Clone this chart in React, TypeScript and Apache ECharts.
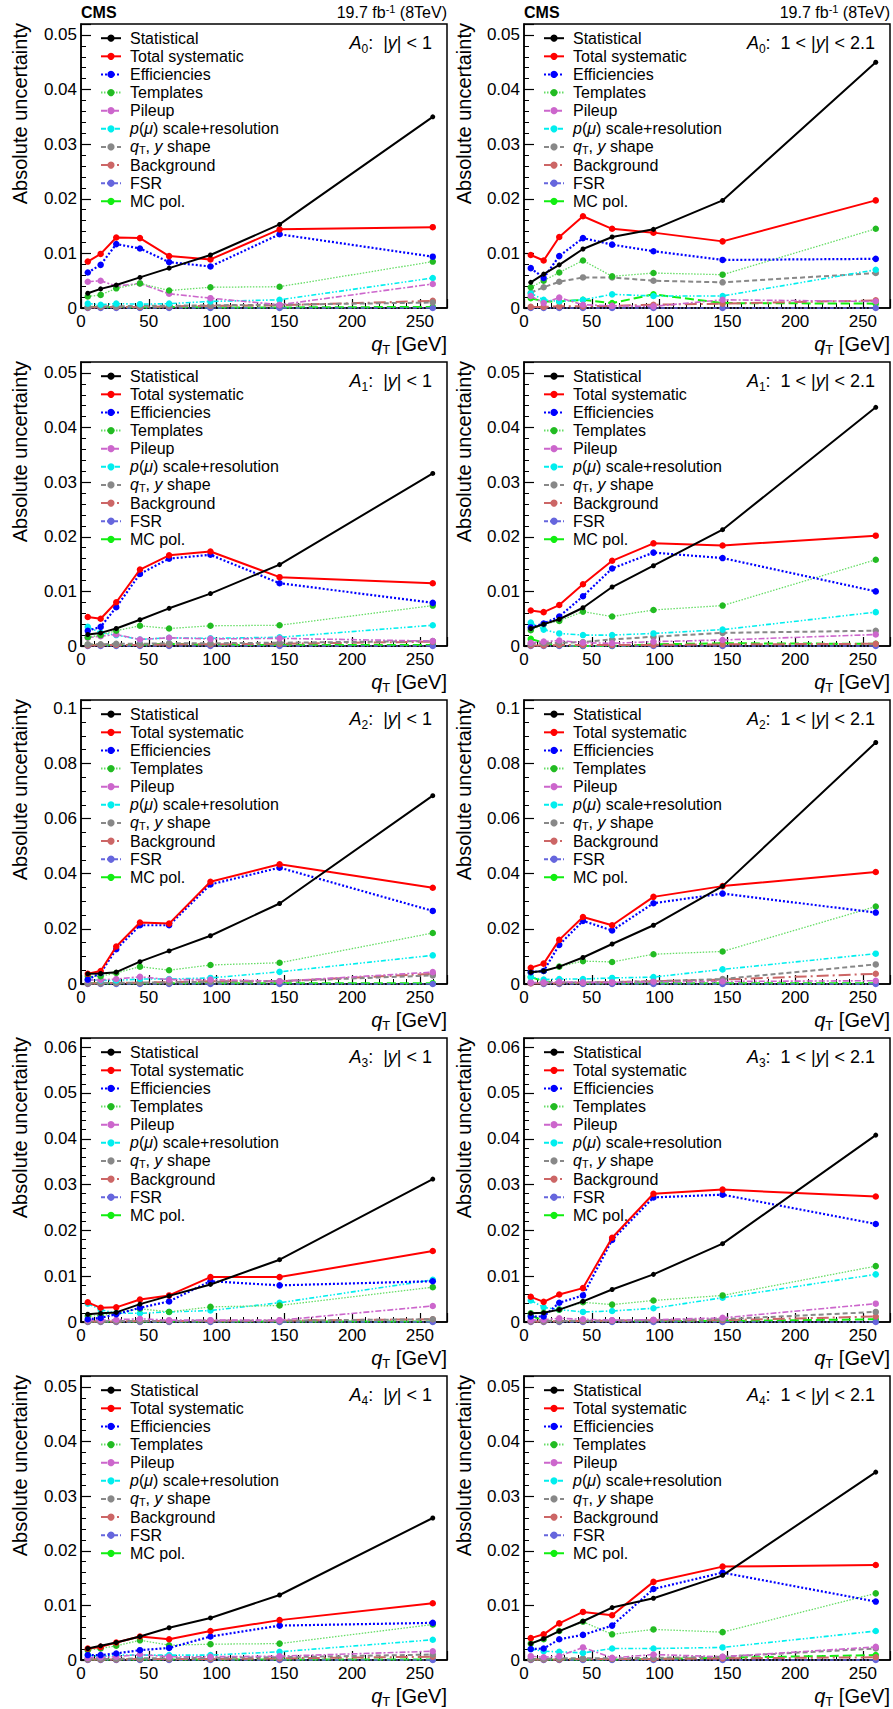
import React, { useEffect, useRef } from "react";
import * as echarts from "echarts";

// ---------------- data ----------------
const QT = [5, 14.5, 26, 43.5, 65, 95.5, 146.5, 259.5];

const SOURCES = [
  "Statistical",
  "Total systematic",
  "Efficiencies",
  "Templates",
  "Pileup",
  "p(μ) scale+resolution",
  "q_T, y shape",
  "Background",
  "FSR",
  "MC pol.",
];

// rows follow SOURCES order; columns follow QT
const A0_CENTRAL = [
  [0.0027, 0.0035, 0.0042, 0.0056, 0.0073, 0.0097, 0.0153, 0.035],
  [0.0085, 0.0099, 0.0129, 0.0128, 0.0095, 0.0089, 0.0144, 0.0148],
  [0.0065, 0.0079, 0.0117, 0.0109, 0.0084, 0.0076, 0.0135, 0.0094],
  [0.0021, 0.0024, 0.0036, 0.0045, 0.0032, 0.0038, 0.0039, 0.0085],
  [0.0048, 0.005, 0.004, 0.0045, 0.0026, 0.0018, 0.0006, 0.0044],
  [0.0008, 0.0006, 0.0008, 0.0007, 0.0008, 0.0012, 0.0015, 0.0055],
  [0.0002, 0.0003, 0.0003, 0.0004, 0.0004, 0.0005, 0.0006, 0.001],
  [0.0001, 0.0002, 0.0002, 0.0002, 0.0003, 0.0004, 0.0005, 0.0013],
  [0.0, 0.0, 0.0, 0.0, 0.0, 0.0, 0.0, 0.0],
  [0.0002, 0.0002, 0.0002, 0.0001, 0.0002, 0.0001, 0.0001, 0.0002],
];
const A0_FORWARD = [
  [0.0047, 0.0062, 0.0079, 0.0108, 0.013, 0.0144, 0.0197, 0.045],
  [0.0097, 0.0087, 0.013, 0.0168, 0.0145, 0.0138, 0.0122, 0.0197],
  [0.0073, 0.0055, 0.0095, 0.0128, 0.0116, 0.0104, 0.0088, 0.009],
  [0.0038, 0.005, 0.0065, 0.0087, 0.0058, 0.0064, 0.0061, 0.0145],
  [0.0022, 0.0009, 0.0019, 0.0006, 0.0004, 0.0003, 0.0015, 0.0012],
  [0.0027, 0.0015, 0.0012, 0.0015, 0.0025, 0.0022, 0.0022, 0.007],
  [0.0028, 0.0038, 0.0048, 0.0056, 0.0056, 0.005, 0.0047, 0.0064],
  [0.0002, 0.0002, 0.0003, 0.0003, 0.0004, 0.0006, 0.0008, 0.0014],
  [0.0, 0.0, 0.0, 0.0, 0.0, 0.0, 0.0, 0.0],
  [0.0018, 0.0012, 0.0012, 0.0015, 0.0009, 0.0025, 0.0009, 0.0008],
];
const A1_CENTRAL = [
  [0.0021, 0.0024, 0.0032, 0.0048, 0.0069, 0.0096, 0.0149, 0.0316],
  [0.0053, 0.005, 0.008, 0.014, 0.0166, 0.0173, 0.0126, 0.0115],
  [0.0028, 0.0035, 0.0071, 0.0132, 0.016, 0.0167, 0.0115, 0.0079],
  [0.0016, 0.002, 0.0028, 0.0037, 0.0032, 0.0037, 0.0038, 0.0074],
  [0.0015, 0.0018, 0.0021, 0.0012, 0.0015, 0.0013, 0.0014, 0.0009],
  [0.0035, 0.0024, 0.002, 0.0012, 0.0015, 0.0014, 0.0016, 0.0038],
  [0.0003, 0.0003, 0.0004, 0.0004, 0.0005, 0.0005, 0.0006, 0.0009],
  [0.0001, 0.0002, 0.0002, 0.0002, 0.0003, 0.0003, 0.0004, 0.0008],
  [0.0, 0.0, 0.0, 0.0, 0.0, 0.0, 0.0, 0.0],
  [0.0002, 0.0002, 0.0002, 0.0002, 0.0004, 0.0002, 0.0002, 0.0002],
];
const A1_FORWARD = [
  [0.0032, 0.004, 0.0049, 0.007, 0.0108, 0.0147, 0.0213, 0.0437],
  [0.0065, 0.0062, 0.0075, 0.0113, 0.0156, 0.0188, 0.0184, 0.0202],
  [0.0034, 0.0041, 0.0054, 0.0091, 0.0142, 0.0171, 0.0161, 0.01],
  [0.0029, 0.004, 0.0046, 0.0063, 0.0054, 0.0066, 0.0074, 0.0158],
  [0.0006, 0.0008, 0.001, 0.0006, 0.0005, 0.0008, 0.0011, 0.0021],
  [0.0043, 0.003, 0.0023, 0.002, 0.002, 0.0023, 0.003, 0.0062],
  [0.0004, 0.0005, 0.0006, 0.0007, 0.0012, 0.0017, 0.0024, 0.0028],
  [0.0001, 0.0001, 0.0002, 0.0002, 0.0002, 0.0002, 0.0003, 0.0004],
  [0.0, 0.0, 0.0, 0.0, 0.0, 0.0, 0.0, 0.0],
  [0.0013, 0.0006, 0.0001, 0.0, 0.0, 0.0003, 0.0005, 0.0004],
];
const A2_CENTRAL = [
  [0.0037, 0.0038, 0.0043, 0.0081, 0.012, 0.0175, 0.0292, 0.0683],
  [0.0037, 0.0047, 0.0136, 0.0223, 0.0219, 0.0371, 0.0434, 0.0349],
  [0.0016, 0.004, 0.0126, 0.0213, 0.0213, 0.0361, 0.0422, 0.0265],
  [0.0028, 0.0028, 0.004, 0.0063, 0.005, 0.0069, 0.0077, 0.0185],
  [0.0014, 0.0015, 0.0018, 0.0026, 0.0016, 0.0016, 0.001, 0.0043],
  [0.0016, 0.0013, 0.0013, 0.0018, 0.0018, 0.0022, 0.0044, 0.0104],
  [0.0003, 0.0003, 0.0004, 0.0005, 0.0006, 0.0008, 0.001, 0.0031],
  [0.0002, 0.0003, 0.0004, 0.0005, 0.0007, 0.001, 0.001, 0.0037],
  [0.0, 0.0, 0.0, 0.0, 0.0, 0.0, 0.0, 0.0],
  [0.0003, 0.0003, 0.0003, 0.0003, 0.0003, 0.0003, 0.0003, 0.0003],
];
const A2_FORWARD = [
  [0.0043, 0.0047, 0.0063, 0.0096, 0.0145, 0.0213, 0.0355, 0.0876],
  [0.0059, 0.0074, 0.016, 0.0243, 0.0213, 0.0316, 0.0355, 0.0406],
  [0.0043, 0.0047, 0.0142, 0.0229, 0.0194, 0.0293, 0.0328, 0.0259],
  [0.0043, 0.0047, 0.0063, 0.0083, 0.008, 0.0108, 0.0118, 0.0281],
  [0.0005, 0.0006, 0.0008, 0.0006, 0.0006, 0.0008, 0.0009, 0.0012],
  [0.0025, 0.0016, 0.0018, 0.0018, 0.0022, 0.0025, 0.0053, 0.011],
  [0.0004, 0.0004, 0.0005, 0.0006, 0.0007, 0.001, 0.0018, 0.0071],
  [0.0002, 0.0003, 0.0003, 0.0005, 0.0007, 0.001, 0.0016, 0.0037],
  [0.0005, 0.0, 0.0, 0.0, 0.0, 0.0, 0.0, 0.0],
  [0.0025, 0.001, 0.0004, 0.0003, 0.0003, 0.0003, 0.0003, 0.0003],
];
const A3_CENTRAL = [
  [0.0017, 0.0019, 0.0021, 0.0039, 0.0057, 0.0082, 0.0136, 0.0312],
  [0.0043, 0.0031, 0.0032, 0.0049, 0.0058, 0.0098, 0.0098, 0.0155],
  [0.0006, 0.0009, 0.0017, 0.0031, 0.0045, 0.0089, 0.008, 0.0089],
  [0.0013, 0.0014, 0.0019, 0.0029, 0.0022, 0.0033, 0.0036, 0.0076],
  [0.0004, 0.0004, 0.0005, 0.0007, 0.0004, 0.0004, 0.0004, 0.0035],
  [0.004, 0.0027, 0.0019, 0.0019, 0.0022, 0.0025, 0.0042, 0.0092],
  [0.0001, 0.0001, 0.0002, 0.0002, 0.0002, 0.0003, 0.0003, 0.0006],
  [0.0001, 0.0001, 0.0001, 0.0002, 0.0002, 0.0003, 0.0003, 0.0006],
  [0.0, 0.0, 0.0, 0.0, 0.0, 0.0, 0.0, 0.0],
  [0.0001, 0.0001, 0.0001, 0.0001, 0.0001, 0.0001, 0.0001, 0.0001],
];
const A3_FORWARD = [
  [0.0019, 0.002, 0.0027, 0.0045, 0.0071, 0.0104, 0.0171, 0.0408],
  [0.0055, 0.0044, 0.006, 0.0074, 0.0184, 0.028, 0.0289, 0.0274],
  [0.0012, 0.0012, 0.0042, 0.0058, 0.0179, 0.0272, 0.0278, 0.0214],
  [0.0019, 0.002, 0.0027, 0.0043, 0.0038, 0.0047, 0.0058, 0.0122],
  [0.0004, 0.0005, 0.0008, 0.0006, 0.0004, 0.0005, 0.0009, 0.004],
  [0.0047, 0.0032, 0.0027, 0.0022, 0.0024, 0.003, 0.0053, 0.0104],
  [0.0002, 0.0002, 0.0002, 0.0003, 0.0003, 0.0004, 0.0006, 0.0022],
  [0.0001, 0.0001, 0.0002, 0.0002, 0.0003, 0.0004, 0.0004, 0.0012],
  [0.0, 0.0, 0.0, 0.0, 0.0, 0.0, 0.0, 0.0],
  [0.0014, 0.0003, 0.0002, 0.0002, 0.0002, 0.0002, 0.0002, 0.0006],
];
const A4_CENTRAL = [
  [0.0021, 0.0026, 0.0032, 0.0043, 0.0059, 0.0077, 0.0119, 0.026],
  [0.0021, 0.0024, 0.0032, 0.0043, 0.0038, 0.0053, 0.0073, 0.0104],
  [0.0009, 0.0009, 0.0012, 0.0018, 0.0022, 0.0043, 0.0063, 0.0068],
  [0.0018, 0.0021, 0.0026, 0.0036, 0.0027, 0.0029, 0.003, 0.0065],
  [0.0004, 0.0005, 0.0006, 0.001, 0.0006, 0.0006, 0.0007, 0.0016],
  [0.0009, 0.0006, 0.0009, 0.0009, 0.0009, 0.0009, 0.0015, 0.0037],
  [0.0002, 0.0002, 0.0002, 0.0003, 0.0003, 0.0004, 0.0005, 0.001],
  [0.0001, 0.0001, 0.0001, 0.0002, 0.0002, 0.0002, 0.0003, 0.0006],
  [0.0, 0.0, 0.0, 0.0, 0.0, 0.0, 0.0, 0.0],
  [0.0001, 0.0001, 0.0001, 0.0001, 0.0001, 0.0001, 0.0001, 0.0001],
];
const A4_FORWARD = [
  [0.003, 0.0039, 0.0053, 0.0071, 0.0096, 0.0113, 0.0155, 0.0344],
  [0.004, 0.0047, 0.0067, 0.0088, 0.0082, 0.0143, 0.0171, 0.0174],
  [0.002, 0.0021, 0.0038, 0.0046, 0.0063, 0.013, 0.016, 0.0107],
  [0.003, 0.0038, 0.0053, 0.007, 0.0047, 0.0056, 0.0051, 0.0122],
  [0.0007, 0.0005, 0.0007, 0.0023, 0.0004, 0.001, 0.0006, 0.0024],
  [0.002, 0.0016, 0.0015, 0.0013, 0.0021, 0.0021, 0.0023, 0.0053],
  [0.0002, 0.0002, 0.0003, 0.0003, 0.0003, 0.0004, 0.0006, 0.0021],
  [0.0001, 0.0001, 0.0001, 0.0002, 0.0002, 0.0002, 0.0003, 0.0005],
  [0.0, 0.0, 0.0, 0.0, 0.0, 0.0, 0.0, 0.0],
  [0.0001, 0.0001, 0.0001, 0.0001, 0.0001, 0.0002, 0.0004, 0.0009],
];

const PANEL_DATA = [
  A0_CENTRAL, A0_FORWARD,
  A1_CENTRAL, A1_FORWARD,
  A2_CENTRAL, A2_FORWARD,
  A3_CENTRAL, A3_FORWARD,
  A4_CENTRAL, A4_FORWARD,
];
const COEFFICIENTS = ["0", "1", "2", "3", "4"];
const RAPIDITY_BINS = ["|y| < 1", "1 < |y| < 2.1"];
const X_TICKS = { min: 0, max: 270, interval: 50 };
const ROW_Y_MAX = [0.052, 0.052, 0.103, 0.062, 0.052];
const ROW_Y_INTERVAL = [0.01, 0.01, 0.02, 0.01, 0.01];
const ROW_Y_MINOR = [5, 5, 4, 5, 5];

// ---------------- styles ----------------
const FONT = "'Liberation Sans', Arial, Helvetica, sans-serif";
const STYLES = [
  { line: "#000000", mark: "#000000", width: 2, type: "solid", size: 5 },
  { line: "#ff0000", mark: "#ff0000", width: 2, type: "solid", size: 6.5 },
  { line: "#0000ff", mark: "#0000ff", width: 2.2, type: [2, 2], size: 6.5 },
  { line: "#66dd66", mark: "#22bb22", width: 1.3, type: [1.5, 1.5], size: 6.5 },
  { line: "#cc66cc", mark: "#cc66cc", width: 1.6, type: [6, 2, 2, 2], size: 6.5 },
  { line: "#00eeee", mark: "#00eeee", width: 1.6, type: [5, 2, 1.5, 2, 1.5, 2], size: 6.5 },
  { line: "#888888", mark: "#888888", width: 2, type: [5, 3], size: 6.5 },
  { line: "#cc6666", mark: "#cc6666", width: 2, type: [12, 4, 2, 4], size: 6.5 },
  { line: "#6666dd", mark: "#6666dd", width: 1.6, type: [4, 2, 1.5, 2, 1.5, 2], size: 6.5 },
  { line: "#11ee11", mark: "#11ee11", width: 2, type: [9, 4], size: 6.5 },
];
const LEGEND_LABELS: Record<string, string> = {
  "p(μ) scale+resolution": "{it|p}({it|μ}) scale+resolution",
  "q_T, y shape": "{it|q}{sub|T}, {it|y} shape",
};

const COL_LEFT = [81, 524];
const FRAME_W = 366;
const FRAME_H = 284;
const ROW_TOP0 = 24;
const ROW_PITCH = 338;
const YTITLE_X = [20, 464];

function fmtTick(v: number, step: number) {
  const k = Math.round(v / step);
  if (Math.abs(v - k * step) > step * 1e-6) return "";
  return String(+v.toFixed(4));
}

function buildOption() {
  const grids: any[] = [];
  const xAxes: any[] = [];
  const yAxes: any[] = [];
  const legends: any[] = [];
  const graphics: any[] = [];
  const series: any[] = [];

  PANEL_DATA.forEach((rows, i) => {
    const r = Math.floor(i / 2);
    const c = i % 2;
    const left = COL_LEFT[c];
    const top = ROW_TOP0 + r * ROW_PITCH;
    const right = left + FRAME_W;
    const bottom = top + FRAME_H;

    grids.push({
      left,
      top,
      width: FRAME_W,
      height: FRAME_H,
      show: true,
      borderColor: "#000",
      borderWidth: 1.5,
      backgroundColor: "transparent",
      containLabel: false,
      outerBoundsMode: "none",
    });

    xAxes.push({
      gridIndex: i,
      type: "value",
      min: X_TICKS.min,
      max: X_TICKS.max,
      interval: X_TICKS.interval,
      axisLine: { show: true, onZero: false, lineStyle: { color: "#000", width: 1.5 } },
      axisTick: { show: true, inside: true, length: 9, lineStyle: { color: "#000", width: 1.2 } },
      minorTick: { show: true, splitNumber: 5, length: 5, lineStyle: { color: "#000", width: 1 } },
      splitLine: { show: false },
      minorSplitLine: { show: false },
      axisLabel: {
        color: "#000",
        fontSize: 17,
        fontFamily: FONT,
        margin: 5,
        showMaxLabel: false,
        formatter: (v: number) => fmtTick(v, X_TICKS.interval),
      },
    });

    const step = ROW_Y_INTERVAL[r];
    yAxes.push({
      gridIndex: i,
      type: "value",
      min: 0,
      max: ROW_Y_MAX[r],
      interval: step,
      axisLine: { show: true, onZero: false, lineStyle: { color: "#000", width: 1.5 } },
      axisTick: { show: true, inside: true, length: 10, lineStyle: { color: "#000", width: 1.2 } },
      minorTick: { show: true, splitNumber: ROW_Y_MINOR[r], length: 5, lineStyle: { color: "#000", width: 1 } },
      splitLine: { show: false },
      minorSplitLine: { show: false },
      axisLabel: {
        color: "#000",
        fontSize: 17,
        fontFamily: FONT,
        margin: 4,
        showMaxLabel: false,
        formatter: (v: number) => fmtTick(v, step),
      },
    });

    legends.push({
      orient: "vertical",
      left: left + 19,
      top: top + 5.2,
      padding: 0,
      itemWidth: 20,
      itemHeight: 9,
      itemGap: 0.13,
      selectedMode: false,
      data: SOURCES,
      formatter: (name: string) => LEGEND_LABELS[name] || name,
      textStyle: {
        color: "#000",
        fontSize: 16,
        fontFamily: FONT,
        lineHeight: 18,
        padding: [0, 0, 0, 4],
        rich: {
          it: { fontStyle: "italic", fontSize: 16, lineHeight: 18, fontFamily: FONT, color: "#000" },
          sub: { fontSize: 11, lineHeight: 18, verticalAlign: "bottom", fontFamily: FONT, color: "#000" },
        },
      },
    });

    // panel title  A_n:  rapidity bin
    const bin = RAPIDITY_BINS[c];
    const binRich = bin.replace("y", "}{yi|y}{t|");
    graphics.push({
      type: "text",
      x: right - 15,
      y: top + 19,
      silent: true,
      style: {
        text: `{a|A}{s|${COEFFICIENTS[r]}}{t|:  ${binRich}}`,
        align: "right",
        verticalAlign: "middle",
        fill: "#000",
        fontSize: 18,
        fontFamily: FONT,
        rich: {
          a: { fontStyle: "italic", fontSize: 18, fontFamily: FONT, fill: "#000", lineHeight: 24 },
          s: { fontSize: 12, fontFamily: FONT, fill: "#000", lineHeight: 24, verticalAlign: "bottom" },
          t: { fontSize: 18, fontFamily: FONT, fill: "#000", lineHeight: 24 },
          yi: { fontStyle: "italic", fontSize: 18, fontFamily: FONT, fill: "#000", lineHeight: 24 },
        },
      },
    });

    // y axis title
    graphics.push({
      type: "text",
      x: YTITLE_X[c],
      y: top - 1,
      rotation: Math.PI / 2,
      silent: true,
      style: {
        text: "Absolute uncertainty",
        align: "right",
        verticalAlign: "middle",
        fill: "#000",
        fontSize: 20,
        fontFamily: FONT,
      },
    });

    // x axis title
    graphics.push({
      type: "text",
      x: right,
      y: bottom + 36,
      silent: true,
      style: {
        text: "{it|q}{sub|T} [GeV]",
        align: "right",
        verticalAlign: "middle",
        fill: "#000",
        fontSize: 20,
        fontFamily: FONT,
        lineHeight: 24,
        rich: {
          it: { fontStyle: "italic", fontSize: 20, fontFamily: FONT, fill: "#000", lineHeight: 24 },
          sub: { fontSize: 13, fontFamily: FONT, fill: "#000", lineHeight: 24, verticalAlign: "bottom" },
        },
      },
    });

    if (r === 0) {
      graphics.push({
        type: "text",
        x: left,
        y: 12,
        silent: true,
        style: { text: "CMS", align: "left", verticalAlign: "middle", fill: "#000", fontSize: 16, fontWeight: "bold", fontFamily: FONT },
      });
      graphics.push({
        type: "text",
        x: right,
        y: 12,
        silent: true,
        style: {
          text: "19.7 fb{sup|-1} (8TeV)",
          align: "right",
          verticalAlign: "middle",
          fill: "#000",
          fontSize: 16,
          fontFamily: FONT,
          lineHeight: 18,
          rich: {
            sup: { fontSize: 11, fontFamily: FONT, fill: "#000", lineHeight: 18, verticalAlign: "top" },
          },
        },
      });
    }

    rows.forEach((vals, s) => {
      const st = STYLES[s];
      series.push({
        type: "line",
        name: SOURCES[s],
        xAxisIndex: i,
        yAxisIndex: i,
        data: QT.map((x, k) => [x, vals[k]]),
        symbol: "circle",
        symbolSize: st.size,
        showSymbol: true,
        clip: false,
        z: 20 - s,
        lineStyle: { color: st.line, width: st.width, type: st.type },
        itemStyle: { color: st.mark },
        emphasis: { disabled: true },
      });
    });
  });

  return {
    animation: false,
    backgroundColor: "#fff",
    textStyle: { fontFamily: FONT },
    grid: grids,
    xAxis: xAxes,
    yAxis: yAxes,
    legend: legends,
    graphic: graphics,
    series,
  };
}

export default function App() {
  const ref = useRef<HTMLDivElement>(null);
  useEffect(() => {
    document.body.style.margin = "0";
    if (!ref.current) return;
    const chart = echarts.init(ref.current, undefined, { renderer: "svg" });
    chart.setOption(buildOption() as any);
    return () => chart.dispose();
  }, []);
  return <div ref={ref} style={{ width: 893, height: 1709 }} />;
}
